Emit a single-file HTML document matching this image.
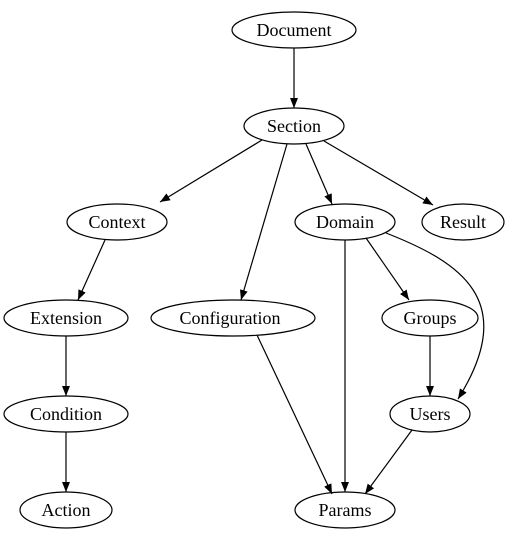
<!DOCTYPE html>
<html><head><meta charset="utf-8"><style>html,body{margin:0;padding:0;background:#fff}svg{display:block}</style></head>
<body>
<svg width="514" height="539" viewBox="0 0 514 539" xmlns="http://www.w3.org/2000/svg">
<defs>
<marker id="a" markerWidth="10" markerHeight="8" refX="10" refY="4" orient="auto" markerUnits="userSpaceOnUse">
<polygon points="0,0 10,4 0,8" fill="#000"/>
</marker>
</defs>
<g fill="none" stroke="#000" stroke-width="1.2">
<ellipse cx="294" cy="30" rx="62" ry="18"/>
<ellipse cx="294" cy="126" rx="50" ry="18"/>
<ellipse cx="117" cy="222" rx="50" ry="18"/>
<ellipse cx="345" cy="222" rx="50" ry="18"/>
<ellipse cx="463" cy="222" rx="41" ry="18"/>
<ellipse cx="66" cy="318" rx="62" ry="18"/>
<ellipse cx="233" cy="318" rx="82" ry="18"/>
<ellipse cx="430" cy="318" rx="48" ry="18"/>
<ellipse cx="66" cy="414" rx="62" ry="18"/>
<ellipse cx="430" cy="414" rx="40" ry="18"/>
<ellipse cx="66" cy="510" rx="46" ry="18"/>
<ellipse cx="345" cy="510" rx="50" ry="18"/>
</g>
<g fill="none" stroke="#000" stroke-width="1.2" marker-end="url(#a)">
<line x1="294" y1="48" x2="294" y2="108"/>
<line x1="262" y1="140" x2="160" y2="202"/>
<line x1="287" y1="144" x2="241" y2="300"/>
<line x1="306" y1="144" x2="332" y2="204"/>
<line x1="324" y1="141" x2="433" y2="205"/>
<line x1="105" y1="240" x2="78" y2="300"/>
<line x1="345" y1="240" x2="345" y2="492"/>
<line x1="366" y1="238" x2="409" y2="300"/>
<path d="M386,233 C460,262 520,300 458,399"/>
<line x1="430" y1="336" x2="430" y2="396"/>
<line x1="257" y1="335" x2="332" y2="494"/>
<line x1="412" y1="430" x2="365" y2="494"/>
<line x1="66" y1="336" x2="66" y2="396"/>
<line x1="66" y1="432" x2="66" y2="492"/>
</g>
<g font-family="'Liberation Serif',serif" font-size="18" text-anchor="middle" fill="#000">
<text x="294" y="36">Document</text>
<text x="294" y="132">Section</text>
<text x="117" y="228">Context</text>
<text x="345" y="228">Domain</text>
<text x="463" y="228">Result</text>
<text x="66" y="324">Extension</text>
<text x="230" y="324">Configuration</text>
<text x="430" y="324">Groups</text>
<text x="66" y="420">Condition</text>
<text x="430" y="420">Users</text>
<text x="66" y="516">Action</text>
<text x="345" y="516">Params</text>
</g>
</svg>
</body></html>
